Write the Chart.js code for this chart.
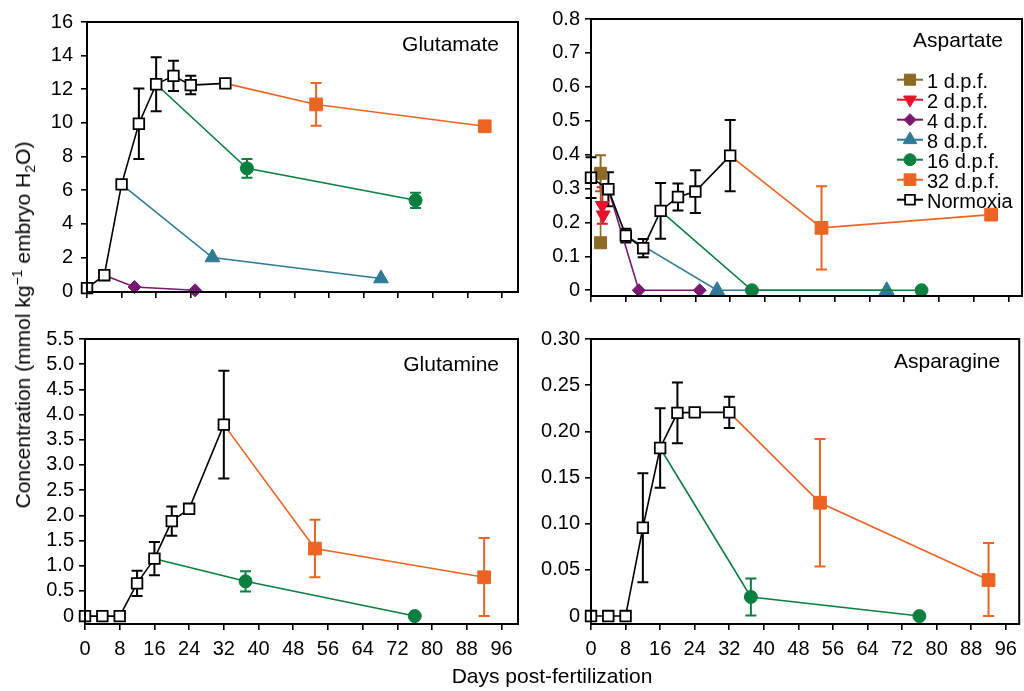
<!DOCTYPE html>
<html lang="en">
<head>
<meta charset="UTF-8" />
<title>Amino acids in embryos</title>
<script src="https://cdn.jsdelivr.net/npm/chart.js"></script>
<style>
  html, body { margin: 0; padding: 0; background: #fff; overflow: hidden; }
  body { width: 1024px; height: 691px; position: relative; font-family: "Liberation Sans", Arial, Helvetica, sans-serif; color: #000; }
  canvas { position: absolute; }
  .axis-title { position: absolute; font-size: 21px; white-space: nowrap; transform: translate(-50%, -50%); }
  #yTitle { left: 23px; top: 325px; transform: translate(-50%, -50%) rotate(-90deg); }
  #xTitle { left: 552px; top: 676px; }
  sup, sub { font-size: 14px; line-height: 0; }
</style>
</head>
<body>
<canvas id="glu"></canvas>
<canvas id="asp"></canvas>
<canvas id="gln"></canvas>
<canvas id="asn"></canvas>
<div class="axis-title" id="yTitle">Concentration (mmol kg<sup>−1</sup> embryo H<sub>2</sub>O)</div>
<div class="axis-title" id="xTitle">Days post-fertilization</div>
<script>
// ---- data ----
const xTicks = [0, 8, 16, 24, 32, 40, 48, 56, 64, 72, 80, 88, 96];
const xTickLabels = ["0", "8", "16", "24", "32", "40", "48", "56", "64", "72", "80", "88", "96"];

const seriesNames = ["1 d.p.f.", "2 d.p.f.", "4 d.p.f.", "8 d.p.f.", "16 d.p.f.", "32 d.p.f.", "Normoxia"];

const normoxiaDays = [0, 4, 8, 12, 16, 20, 24, 32];
const dpf1Days = [2.2, 2.2];
const dpf2Days = [2.6, 2.8];
const dpf4Days = [4, 11, 25];
const dpf8Days = [8, 29, 68];
const dpf16Days = [16, 37, 76];
const dpf32Days = [32, 53, 92];

// Glutamate
const gluTicks = [0, 2, 4, 6, 8, 10, 12, 14, 16];
const gluTickLabels = ["0", "2", "4", "6", "8", "10", "12", "14", "16"];
const gluNormoxia = [0.18, 0.95, 6.35, 9.95, 12.3, 12.8, 12.25, 12.35];
const gluNormoxiaErr = [0, 0, 0, 2.1, 1.6, 0.9, 0.55, 0.2];
const glu4 = [0.95, 0.25, 0.05];
const glu8 = [6.35, 2.0, 0.75];
const glu16 = [12.3, 7.3, 5.4];
const glu16Err = [0, 0.56, 0.45];
const glu32 = [12.35, 11.1, 9.8];
const glu32Err = [0, 1.27, 0];

// Aspartate
const aspTicks = [0, 0.1, 0.2, 0.3, 0.4, 0.5, 0.6, 0.7, 0.8];
const aspTickLabels = ["0", "0.1", "0.2", "0.3", "0.4", "0.5", "0.6", "0.7", "0.8"];
const aspNormoxia = [0.332, 0.298, 0.161, 0.124, 0.234, 0.275, 0.291, 0.397];
const aspNormoxiaErr = [0.06, 0.05, 0.02, 0.027, 0.082, 0.04, 0.063, 0.105];
const asp1 = [0.345, 0.14];
const asp1Err = [0.053, 0];
const asp2 = [0.25, 0.222];
const asp2Err = [0.054, 0];
const asp4 = [0.298, 0, 0];
const asp8 = [0.161, 0, 0];
const asp16 = [0.234, 0, 0];
const asp32 = [0.397, 0.184, 0.223];
const asp32Err = [0, 0.123, 0];

// Glutamine
const glnTicks = [0, 0.5, 1, 1.5, 2, 2.5, 3, 3.5, 4, 4.5, 5, 5.5];
const glnTickLabels = ["0", "0.5", "1.0", "1.5", "2.0", "2.5", "3.0", "3.5", "4.0", "4.5", "5.0", "5.5"];
const glnNormoxia = [0, 0, 0, 0.65, 1.14, 1.885, 2.13, 3.8];
const glnNormoxiaErr = [0, 0, 0, 0.25, 0.33, 0.29, 0, 1.07];
const gln16 = [1.14, 0.69, 0];
const gln16Err = [0, 0.2, 0];
const gln32 = [3.8, 1.34, 0.77];
const gln32Err = [0, 0.57, 0.78];

// Asparagine
const asnTicks = [0, 0.05, 0.1, 0.15, 0.2, 0.25, 0.3];
const asnTickLabels = ["0", "0.05", "0.10", "0.15", "0.20", "0.25", "0.30"];
const asnNormoxia = [0, 0, 0, 0.0956, 0.182, 0.22, 0.2205, 0.2205];
const asnNormoxiaErr = [0, 0, 0, 0.059, 0.043, 0.033, 0, 0.017];
const asn16 = [0.182, 0.0207, 0];
const asn16Err = [0, 0.02, 0];
const asn32 = [0.2205, 0.1227, 0.039];
const asn32Err = [0, 0.069, 0.04];

// ---- styles ----
const FONT = '"Liberation Sans", Arial, Helvetica, sans-serif';
Chart.defaults.font.family = FONT;
Chart.defaults.color = "#000";

const styles = {
  d1:   { name: seriesNames[0], color: "#8d6a26", fill: "#8d6a26", pointStyle: "rect",     radius: 8.5, rotation: 0,   order: 4, hideFirst: false },
  d2:   { name: seriesNames[1], color: "#e8112d", fill: "#e8112d", pointStyle: "triangle", radius: 8,   rotation: 180, order: 3, hideFirst: false },
  d4:   { name: seriesNames[2], color: "#7a1770", fill: "#7a1770", pointStyle: "rectRot",  radius: 6.5, rotation: 0,   order: 5, hideFirst: true },
  d8:   { name: seriesNames[3], color: "#2f7a96", fill: "#2f7a96", pointStyle: "triangle", radius: 8.5, rotation: 0,   order: 6, hideFirst: true },
  d16:  { name: seriesNames[4], color: "#0a7f3f", fill: "#0a7f3f", pointStyle: "circle",   radius: 6.5, rotation: 0,   order: 1, hideFirst: true },
  d32:  { name: seriesNames[5], color: "#ec6423", fill: "#ec6423", pointStyle: "rect",     radius: 9,   rotation: 0,   order: 2, hideFirst: true },
  norm: { name: seriesNames[6], color: "#000000", fill: "#ffffff", pointStyle: "rect",     radius: 7.5, rotation: 0,   order: 0, hideFirst: false }
};
const legendKeys = ["d1", "d2", "d4", "d8", "d16", "d32", "norm"];

function series(key, days, values, errs) {
  const s = styles[key];
  return {
    label: s.name,
    data: days.map((d, i) => ({ x: d, y: values[i] })),
    errors: errs || null,
    borderColor: s.color,
    backgroundColor: s.fill,
    borderWidth: 1.6,
    pointStyle: s.pointStyle,
    pointRotation: s.rotation,
    pointRadius: ctx => (s.hideFirst && ctx.dataIndex === 0 ? 0 : s.radius),
    pointBackgroundColor: s.fill,
    pointBorderColor: s.color,
    pointBorderWidth: key === "norm" ? 1.8 : 1,
    tension: 0,
    clip: false,
    order: s.order
  };
}

const panels = [
  { id: "glu", rect: [87, 16, 518, 304], yMin: -0.05, yMax: 16, xMax: 99.7, yPad: 8,
    ticks: gluTicks, labels: gluTickLabels, title: "Glutamate", titleDy: 29, xLabels: false, legend: false,
    datasets: [
      series("d4", dpf4Days, glu4),
      series("d8", dpf8Days, glu8),
      series("d16", dpf16Days, glu16, glu16Err),
      series("d32", dpf32Days, glu32, glu32Err),
      series("norm", normoxiaDays, gluNormoxia, gluNormoxiaErr)
    ] },
  { id: "asp", rect: [591, 16, 1022, 305], yMin: -0.017, yMax: 0.8, xMax: 99.1, yPad: 5,
    ticks: aspTicks, labels: aspTickLabels, title: "Aspartate", titleDy: 28, xLabels: false, legend: true,
    datasets: [
      series("d1", dpf1Days, asp1, asp1Err),
      series("d2", dpf2Days, asp2, asp2Err),
      series("d4", dpf4Days, asp4),
      series("d8", dpf8Days, asp8),
      series("d16", dpf16Days, asp16),
      series("d32", dpf32Days, asp32, asp32Err),
      series("norm", normoxiaDays, aspNormoxia, aspNormoxiaErr)
    ] },
  { id: "gln", rect: [85, 336, 518, 624], yMin: -0.157, yMax: 5.5, xMax: 99.8, yPad: 5,
    ticks: glnTicks, labels: glnTickLabels, title: "Glutamine", titleDy: 32, xLabels: true, legend: false,
    datasets: [
      series("d16", dpf16Days, gln16, gln16Err),
      series("d32", dpf32Days, gln32, gln32Err),
      series("norm", normoxiaDays, glnNormoxia, glnNormoxiaErr)
    ] },
  { id: "asn", rect: [591, 336, 1022, 624], yMin: -0.0086, yMax: 0.3, xMax: 99.1, yPad: 5,
    ticks: asnTicks, labels: asnTickLabels, title: "Asparagine", titleDy: 29, xLabels: true, legend: false,
    datasets: [
      series("d16", dpf16Days, asn16, asn16Err),
      series("d32", dpf32Days, asn32, asn32Err),
      series("norm", normoxiaDays, asnNormoxia, asnNormoxiaErr)
    ] }
];

// error bars under the markers
const errorBars = {
  id: "errorBars",
  beforeDatasetsDraw(chart) {
    const ctx = chart.ctx, xs = chart.scales.x, ys = chart.scales.y;
    ctx.save();
    ctx.lineWidth = 2;
    chart.data.datasets.forEach(ds => {
      if (!ds.errors) return;
      ds.data.forEach((pt, i) => {
        const e = ds.errors[i];
        if (!e) return;
        const x = xs.getPixelForValue(pt.x);
        const y1 = ys.getPixelForValue(pt.y + e);
        const y2 = ys.getPixelForValue(Math.max(0, pt.y - e));
        ctx.strokeStyle = ds.borderColor;
        ctx.beginPath();
        ctx.moveTo(x, y1); ctx.lineTo(x, y2);
        ctx.moveTo(x - 5.5, y1); ctx.lineTo(x + 5.5, y1);
        ctx.moveTo(x - 5.5, y2); ctx.lineTo(x + 5.5, y2);
        ctx.stroke();
      });
    });
    ctx.restore();
  }
};

// box round the plot, panel name and legend
const panelDecor = {
  id: "panelDecor",
  afterDatasetsDraw(chart, args, opts) {
    const ctx = chart.ctx, a = chart.chartArea;
    ctx.save();
    ctx.strokeStyle = "#000";
    ctx.lineWidth = 2;
    ctx.strokeRect(a.left, a.top, a.right - a.left, a.bottom - a.top);

    ctx.fillStyle = "#000";
    ctx.font = "21px " + FONT;
    ctx.textAlign = "right";
    ctx.textBaseline = "alphabetic";
    ctx.fillText(opts.title, a.right - 19, a.top + opts.titleDy);

    if (opts.legend) {
      ctx.font = "20px " + FONT;
      ctx.textAlign = "left";
      legendKeys.forEach((k, i) => {
        const s = styles[k];
        const base = a.top + 69 + i * 20;
        const y = base - 8.3;
        const x0 = a.left + 306;
        ctx.strokeStyle = s.color;
        ctx.lineWidth = 2;
        ctx.beginPath();
        ctx.moveTo(x0, y); ctx.lineTo(x0 + 26, y);
        ctx.stroke();
        ctx.fillStyle = s.fill;
        ctx.lineWidth = k === "norm" ? 1.8 : 1;
        Chart.helpers.drawPoint(ctx, { pointStyle: s.pointStyle, radius: s.radius * 0.92, rotation: s.rotation, borderWidth: ctx.lineWidth }, x0 + 13, y);
        ctx.fillStyle = "#000";
        ctx.fillText(s.name, x0 + 30, base);
      });
    }
    ctx.restore();
  }
};

panels.forEach(p => {
  const [l, t, r, b] = p.rect;
  const padTop = 14, padRight = 2, yw = 60, xh = p.xLabels ? 44 : 8;
  const cv = document.getElementById(p.id);
  cv.width = r - l + yw + padRight;
  cv.height = b - t + padTop + xh;
  cv.style.left = (l - yw) + "px";
  cv.style.top = (t - padTop) + "px";

  new Chart(cv, {
    type: "line",
    data: { datasets: p.datasets },
    options: {
      responsive: false,
      animation: false,
      devicePixelRatio: 1,
      events: [],
      layout: { autoPadding: false, padding: { top: padTop, right: padRight, left: 0, bottom: 0 } },
      plugins: {
        legend: { display: false },
        tooltip: { enabled: false },
        panelDecor: { title: p.title, titleDy: p.titleDy, legend: p.legend }
      },
      scales: {
        x: {
          type: "linear",
          min: 0,
          max: p.xMax,
          afterBuildTicks: s => { s.ticks = xTicks.map(v => ({ value: v })); },
          afterFit: s => { s.height = xh; },
          ticks: {
            display: p.xLabels,
            font: { size: 20 },
            color: "#000",
            padding: 7,
            maxRotation: 0,
            autoSkip: false,
            callback: (v, i) => xTickLabels[i]
          },
          grid: { display: true, drawOnChartArea: false, drawTicks: true, tickLength: 6, color: "#000", lineWidth: 1.6 },
          border: { display: false }
        },
        y: {
          type: "linear",
          min: p.yMin,
          max: p.yMax,
          afterBuildTicks: s => { s.ticks = p.ticks.map(v => ({ value: v })); },
          afterFit: s => { s.width = yw; },
          ticks: {
            font: { size: 20 },
            color: "#000",
            padding: p.yPad,
            autoSkip: false,
            callback: (v, i) => p.labels[i]
          },
          grid: { display: true, drawOnChartArea: false, drawTicks: true, tickLength: 6, color: "#000", lineWidth: 1.6 },
          border: { display: false }
        }
      }
    },
    plugins: [errorBars, panelDecor]
  });
});
</script>
</body>
</html>
